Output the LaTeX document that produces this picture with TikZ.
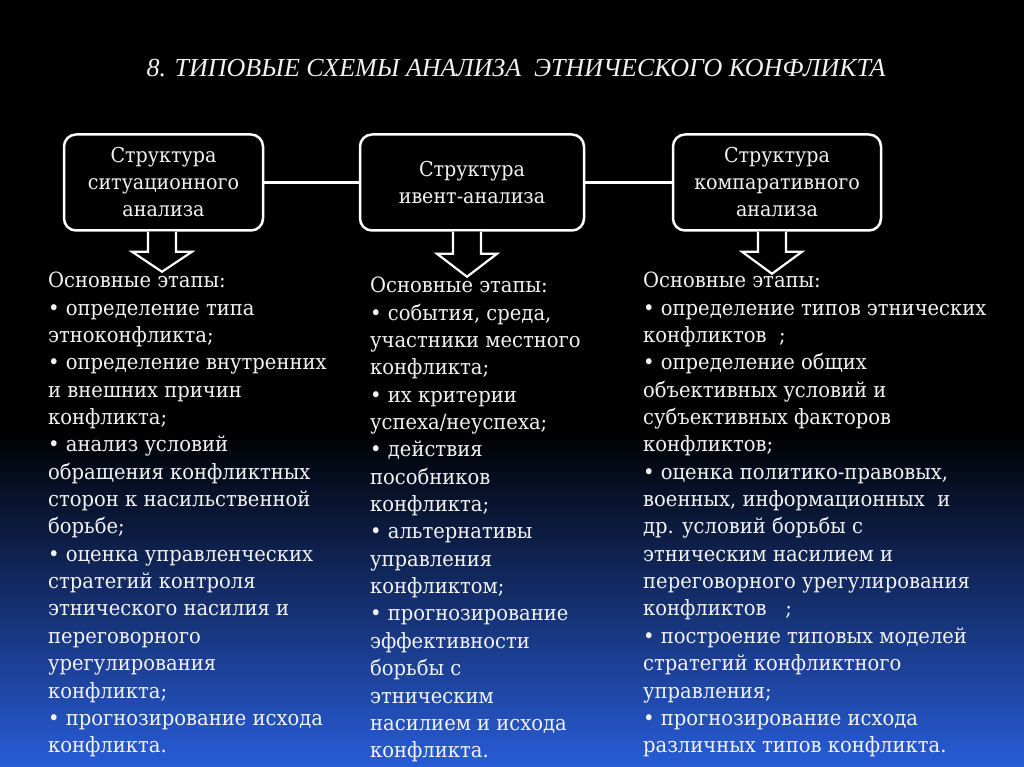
\documentclass[tikz,border=0pt]{standalone}
\usepackage{fontspec}
\setmainfont[FakeStretch=0.93]{DejaVu Serif}
\newfontfamily\titlefont{Liberation Serif}
\usetikzlibrary{calc}
\definecolor{bgblue}{RGB}{40,92,215}
\definecolor{txt}{RGB}{242,242,242}
\begin{document}
\begin{tikzpicture}[x=1pt,y=-1pt,
  box/.style={draw=white, line width=2.5pt, rounded corners=12pt, fill=black,
    minimum height=96pt, text=txt, align=center, inner sep=0pt,
    font=\fontsize{20.5}{27}\selectfont},
  conn/.style={draw=white, line width=2.5pt},
  blockarrow/.style={draw=white, line width=2.2pt, fill=black, line join=miter},
  body/.style={text=txt, align=left, anchor=north west, inner sep=0pt,
    font=\fontsize{21}{27.35}\selectfont},
  ttl/.style={text=txt, font=\titlefont\itshape\fontsize{26}{30}\selectfont}]
\useasboundingbox (0,0) rectangle (1024,767);
\fill[black] (0,0) rectangle (1024,767);
\shade[top color=black, bottom color=bgblue] (0,430) rectangle (1024,767);

\node[ttl] (title) at (516,68) {8. ТИПОВЫЕ СХЕМЫ АНАЛИЗА\ \ ЭТНИЧЕСКОГО КОНФЛИКТА};

\node[box, minimum width=199pt] (b1) at (163.5,182.5) {Структура\\ситуационного\\анализа};
\node[box, minimum width=224pt] (b2) at (472,182.5) {Структура\\ивент-анализа};
\node[box, minimum width=208pt] (b3) at (777,182.5) {Структура\\компаративного\\анализа};

\draw[conn] (b1.east) -- (b2.west);
\draw[conn] (b2.east) -- (b3.west);

\coordinate (a1) at ($(b1.south)+(-1.5,0)$);
\coordinate (a2) at ($(b2.south)+(-5,0)$);
\coordinate (a3) at ($(b3.south)+(-5,0)$);
\foreach \c/\s/\h in {a1/20/20, a2/22/23, a3/20/22}{
  \draw[blockarrow] ($(\c)+(-14,0)$) -- ++(0,\s) -- ++(-16,0) -- ($(\c)+(0,\s+\h)$)
    -- ($(\c)+(30,\s)$) -- ++(-16,0) -- ++(0,-\s);
}

\node[body] (t1) at (48,272) {Основные этапы:\\
• определение типа\\
этноконфликта;\\
• определение внутренних\\
и внешних причин\\
конфликта;\\
• анализ условий\\
обращения конфликтных\\
сторон к насильственной\\
борьбе;\\
• оценка управленческих\\
стратегий контроля\\
этнического насилия и\\
переговорного\\
урегулирования\\
конфликта;\\
• прогнозирование исхода\\
конфликта.};

\node[body] (t2) at (370,277) {Основные этапы:\\
• события, среда,\\
участники местного\\
конфликта;\\
• их критерии\\
успеха/неуспеха;\\
• действия\\
пособников\\
конфликта;\\
• альтернативы\\
управления\\
конфликтом;\\
• прогнозирование\\
эффективности\\
борьбы с\\
этническим\\
насилием и исхода\\
конфликта.};

\node[body] (t3) at (643,272) {Основные этапы:\\
• определение типов этнических\\
конфликтов\ \ ;\\
• определение общих\\
объективных условий и\\
субъективных факторов\\
конфликтов;\\
• оценка политико-правовых,\\
военных, информационных\ \ и\\
др. условий борьбы с\\
этническим насилием и\\
переговорного урегулирования\\
конфликтов\ \ \ ;\\
• построение типовых моделей\\
стратегий конфликтного\\
управления;\\
• прогнозирование исхода\\
различных типов конфликта.};
\end{tikzpicture}
\end{document}
